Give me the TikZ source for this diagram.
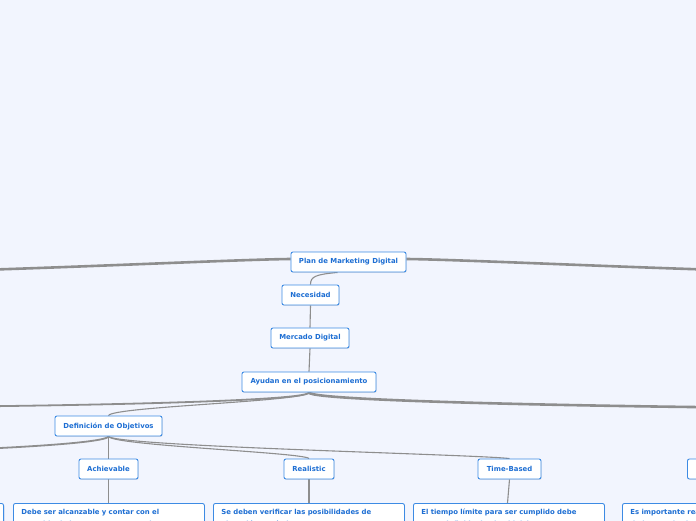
\documentclass[tikz,border=0pt]{standalone}
\usepackage{fontspec}
\setmainfont{DejaVu Sans}
\usetikzlibrary{shadows}
\definecolor{bg}{HTML}{F2F5FE}
\definecolor{bd}{HTML}{3D8BE4}
\definecolor{tx}{HTML}{1D6ED3}
\definecolor{ln}{HTML}{8E8E8E}
\pgfdeclarelayer{bglines}
\pgfsetlayers{bglines,main}
\tikzset{
  topic/.style={draw=bd, line width=0.9pt, fill=white, rounded corners=2pt, inner sep=0pt,
    minimum height=20pt, font=\fontsize{6.9}{8}\selectfont\bfseries, text=tx,
    drop shadow={shadow xshift=0.7pt, shadow yshift=-0.9pt, opacity=0.18}},
  note/.style={topic, anchor=north west, text width=175pt, align=left,
    inner xsep=8pt, inner ysep=6pt, font=\fontsize{6.9}{11.5}\selectfont\bfseries},
  conn/.style={draw=ln, line width=1.1pt},
  thick conn/.style={draw=ln, line width=2.6pt},
  mid conn/.style={draw=ln, line width=1.8pt},
}
\begin{document}
\begin{tikzpicture}[x=1pt,y=-1pt]
\useasboundingbox (0,0) rectangle (696,520);
\clip (0,0) rectangle (696,520);

% off-screen ends
\coordinate (offL1) at (-120,272);
\coordinate (offR1) at (820,272);
\coordinate (offL2) at (-120,407);
\coordinate (offR2) at (820,408);
\coordinate (offL3) at (-120,452);

% nodes
\node[topic, minimum width=115pt] (plan) at (348.5,262) {Plan de Marketing Digital};
\node[topic, minimum width=57pt]  (nec)  at (310.5,295) {Necesidad};
\node[topic, minimum width=78pt]  (merc) at (310,338) {Mercado Digital};
\node[topic, minimum width=134pt] (ayu)  at (309,382) {Ayudan en el posicionamiento};
\node[topic, minimum width=107pt] (def)  at (108.5,426) {Definición de Objetivos};
\node[topic, minimum width=59pt]  (ach)  at (108.5,469) {Achievable};
\node[topic, minimum width=50pt]  (real) at (309,469) {Realistic};
\node[topic, minimum width=63pt]  (time) at (509.5,469) {Time-Based};
\node[topic, minimum width=70pt, anchor=west] (meas) at (687,469) {Cuantificable};

\node[note] (achN)  at (13,503)  {Debe ser alcanzable y contar con el\\respaldo de los recursos necesarios\\para lograrlo.};
\node[note] (realN) at (213,503) {Se deben verificar las posibilidades de\\ejecución según los recursos\\disponibles.};
\node[note] (timeN) at (413,503) {El tiempo límite para ser cumplido debe\\estar definido desde el inicio\\del plan.};
\node[note] (measN) at (622,503) {Es importante realizar un seguimiento\\de los resultados obtenidos\\en cada etapa.};
\node[note, anchor=north east, minimum height=40pt] (leftN) at (4,503) {};

\begin{pgfonlayer}{bglines}
\fill[bg] (-10,-10) rectangle (706,530);
% main branches from plan
\path[thick conn] ([yshift=3pt]plan.west) .. controls +(-60,0.5) and +(100,0) .. (offL1);
\path[thick conn] ([yshift=3pt]plan.east) .. controls +(60,0.5) and +(-100,0) .. (offR1);
\path[conn] ([xshift=-11pt]plan.south) .. controls +(-22,2) and +(0,-8) .. (nec.north);
\path[conn] (nec.south) -- (merc.north);
\path[conn] (merc.south) -- (ayu.north);
% branches from ayu
\path[mid conn] (ayu.south) .. controls +(0,10) and +(120,0) .. (offL2);
\path[thick conn] (ayu.south) .. controls +(0,10) and +(-120,0) .. (offR2);
\path[conn] (ayu.south) .. controls +(-2,9) and +(4,-9) .. (def.north);
% branches from def
\path[mid conn] (def.south) .. controls +(-4,9) and +(40,0) .. (offL3);
\path[conn] (def.south) -- (ach.north);
\path[conn] (def.south) .. controls +(4,9) and +(-4,-6) .. (real.north);
\path[conn] (def.south) .. controls +(10,10) and +(-30,-4) .. (time.north);
% to notes
\path[conn] (ach.south) -- (achN.north -| ach.south);
\path[conn] (real.south) -- (realN.north -| real.south);
\path[conn] (time.south) -- ([xshift=-2pt]timeN.north -| time.south);
\end{pgfonlayer}
\end{tikzpicture}
\end{document}
